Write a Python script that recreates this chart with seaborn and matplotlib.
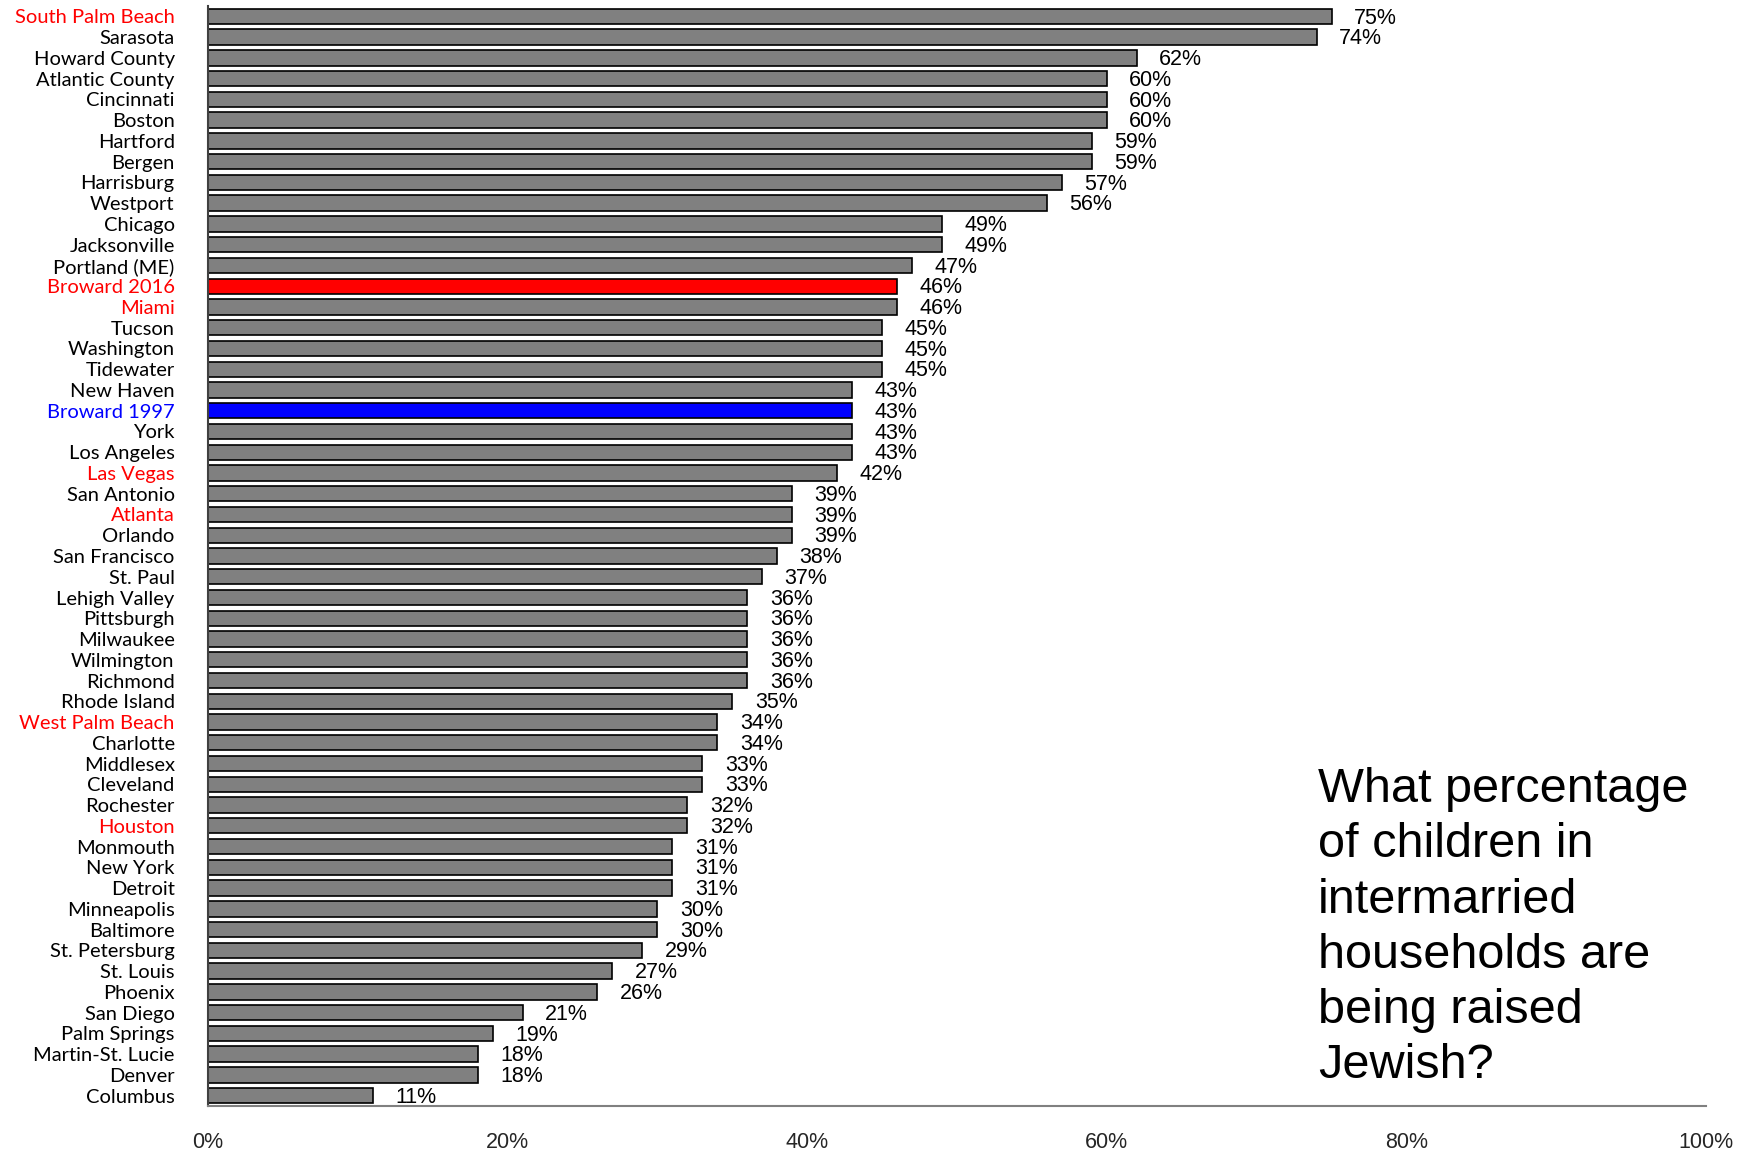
import matplotlib
matplotlib.use("Agg")
import matplotlib.pyplot as plt
import seaborn as sns
import pandas as pd

cities = ["South Palm Beach", "Sarasota", "Howard County", "Atlantic County", "Cincinnati",
          "Boston", "Hartford", "Bergen", "Harrisburg", "Westport", "Chicago", "Jacksonville",
          "Portland (ME)", "Broward 2016", "Miami", "Tucson", "Washington", "Tidewater",
          "New Haven", "Broward 1997", "York", "Los Angeles", "Las Vegas", "San Antonio",
          "Atlanta", "Orlando", "San Francisco", "St. Paul", "Lehigh Valley", "Pittsburgh",
          "Milwaukee", "Wilmington", "Richmond", "Rhode Island", "West Palm Beach", "Charlotte",
          "Middlesex", "Cleveland", "Rochester", "Houston", "Monmouth", "New York", "Detroit",
          "Minneapolis", "Baltimore", "St. Petersburg", "St. Louis", "Phoenix", "San Diego",
          "Palm Springs", "Martin-St. Lucie", "Denver", "Columbus"]
values = [75, 74, 62, 60, 60, 60, 59, 59, 57, 56, 49, 49, 47, 46, 46, 45, 45, 45, 43, 43, 43,
          43, 42, 39, 39, 39, 38, 37, 36, 36, 36, 36, 36, 35, 34, 34, 33, 33, 32, 32, 31, 31,
          31, 30, 30, 29, 27, 26, 21, 19, 18, 18, 11]
red_labels = ["South Palm Beach", "Broward 2016", "Miami", "Las Vegas", "Atlanta",
              "West Palm Beach", "Houston"]
blue_labels = ["Broward 1997"]
bar_highlight = {"Broward 2016": "#ff0000", "Broward 1997": "#0000ff"}
xticks = [0, 20, 40, 60, 80, 100]
question = "What percentage\nof children in\nintermarried\nhouseholds are\nbeing raised\nJewish?"

df = pd.DataFrame({"city": cities, "value": values})

sns.set_theme(style="white")
plt.rcParams['font.family'] = ['Liberation Sans', 'DejaVu Sans']

fig = plt.figure(figsize=(17.54, 11.51), dpi=100)
ax = fig.add_axes([208/1754, 1 - 1106/1151, (1706 - 208)/1754, (1106 - 6)/1151])

palette = {c: bar_highlight.get(c, "#808080") for c in cities}
sns.barplot(data=df, x="value", y="city", hue="city", palette=palette, legend=False,
            order=cities, hue_order=cities, width=0.74, edgecolor="black", linewidth=1.2,
            saturation=1, ax=ax)

ax.set_xlim(0, 100)
ax.set_ylim(52.5, -0.5)
ax.set_xlabel("")
ax.set_ylabel("")
ax.set_xticks(xticks)
ax.set_xticklabels([f"{t}%" for t in xticks], fontsize=15.5, family=['Liberation Sans'])
ax.tick_params(axis="x", length=0, pad=19)
ax.tick_params(axis="y", length=0, pad=24)

for lbl in ax.get_yticklabels():
    txt = lbl.get_text()
    lbl.set_family(['Lato', 'DejaVu Sans'])
    lbl.set_fontsize(14.5)
    if txt in red_labels:
        lbl.set_color("#ff0000")
    elif txt in blue_labels:
        lbl.set_color("#0000ff")
    else:
        lbl.set_color("black")

for i, v in enumerate(values):
    ax.text(v + 1.5, i + 0.08, f"{v}%", va="center", ha="left", fontsize=15.5,
            family=['Liberation Sans'], color="black")

for side in ["top", "right"]:
    ax.spines[side].set_visible(False)
ax.spines["left"].set_color("#404040")
ax.spines["left"].set_linewidth(1.5)
ax.spines["bottom"].set_color("#808080")
ax.spines["bottom"].set_linewidth(1.5)

fig.text(1318/1754, 1 - 767/1151, question, ha="left", va="top", fontsize=35,
         family=['Liberation Sans'], linespacing=1.293, color="black")

fig.savefig("out.png", dpi=100, facecolor="white")
